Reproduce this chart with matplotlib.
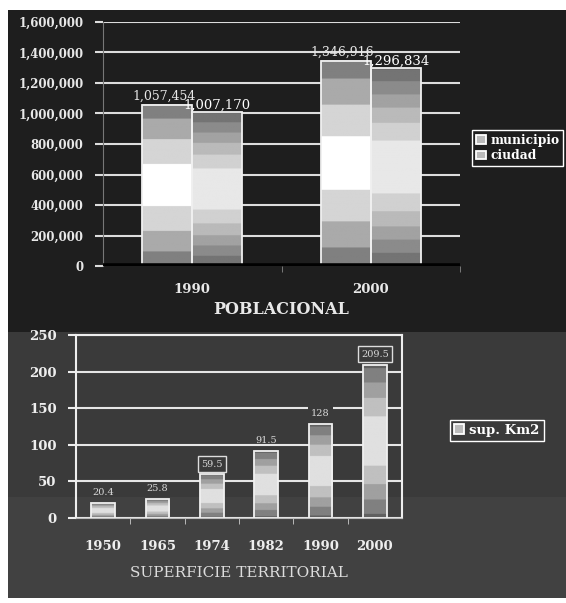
import numpy as np
import matplotlib
matplotlib.use("Agg")
import matplotlib.pyplot as plt
from matplotlib.patches import Rectangle

# poblacional
years_pop = ["1990", "2000"]
municipio = [1057454, 1346916]
ciudad = [1007170, 1296834]
pop_ticks = [0, 200000, 400000, 600000, 800000, 1000000, 1200000, 1400000, 1600000]

# superficie territorial
years_sup = ["1950", "1965", "1974", "1982", "1990", "2000"]
sup_km2 = [20.4, 25.8, 59.5, 91.5, 128, 209.5]
sup_labels = ["20.4", "25.8", "59.5", "91.5", "128", "209.5"]
sup_ticks = [0, 50, 100, 150, 200, 250]

W, H = 566, 603
SERIF = "DejaVu Serif"


def fx(px):
    return px / W


def fy(py):
    return 1 - py / H


def shade(ax, bars, lo, hi, levels):
    # banded "center light" gradient like the old excel fills
    t = np.linspace(0, 1, 300)
    g = lo + (hi - lo) * (1 - np.abs(2 * t - 1) ** 1.4)
    g = np.round(g * levels) / levels
    for b in bars:
        x0, y0 = b.get_x(), b.get_y()
        ax.imshow(g[:, None], extent=[x0, x0 + b.get_width(), y0, y0 + b.get_height()],
                  origin="lower", aspect="auto", cmap="gray", vmin=0, vmax=1, zorder=2)


fig = plt.figure(figsize=(W / 100, H / 100), dpi=100)
fig.patch.set_facecolor("white")

# backgrounds
fig.patches.append(Rectangle((fx(8), fy(332)), 1, fy(10) - fy(332), transform=fig.transFigure,
                             facecolor="#1e1e1e", edgecolor="none", zorder=-10))
fig.patches.append(Rectangle((fx(8), fy(497)), 1, fy(332) - fy(497), transform=fig.transFigure,
                             facecolor="#3a3a3a", edgecolor="none", zorder=-10))
fig.patches.append(Rectangle((fx(8), fy(598)), 1, fy(497) - fy(598), transform=fig.transFigure,
                             facecolor="#414141", edgecolor="none", zorder=-10))

# ---------- top chart ----------
ax1 = fig.add_axes([fx(103), fy(266), fx(460) - fx(103), fy(22) - fy(266)])
ax1.set_facecolor("none")
x = np.arange(len(years_pop))
bw = 0.28
b_mun = ax1.bar(x - bw / 2, municipio, bw, fill=False, edgecolor="#f0f0f0", lw=1.3, zorder=3)
b_ciu = ax1.bar(x + bw / 2, ciudad, bw, fill=False, edgecolor="#f0f0f0", lw=1.3, zorder=3)
shade(ax1, b_mun, 0.45, 1.0, 6)
shade(ax1, b_ciu, 0.40, 0.95, 11)
ax1.axhline(0, color="black", lw=4, zorder=4)

for b, v in zip(b_mun, municipio):
    ax1.text(b.get_x() + b.get_width() / 2 - 0.02, v + 15000, f"{v:,}", color="#e8e8e8",
             fontsize=9, family=SERIF, ha="center", va="bottom", zorder=5)
for b, v in zip(b_ciu, ciudad):
    ax1.text(b.get_x() + b.get_width() / 2, v + 5000, f"{v:,}", color="white",
             fontsize=9.5, family=SERIF, ha="center", va="bottom", zorder=5)

ax1.set_xlim(-0.5, 1.5)
ax1.set_ylim(0, 1600000)
ax1.set_yticks(pop_ticks)
ax1.set_yticklabels([f"{v:,}" for v in pop_ticks], family=SERIF, fontweight="bold",
                    fontsize=8.5, color="#e8e8e8")
ax1.set_xticks(x)
ax1.set_xticklabels(years_pop, family=SERIF, fontweight="bold", fontsize=9.5, color="#e8e8e8")
ax1.set_xticks([0.5, 1.5], minor=True)
ax1.tick_params(axis="x", which="major", length=0, pad=12)
ax1.tick_params(axis="x", which="minor", length=4, color="#888888")
ax1.tick_params(axis="y", length=6, color="#dddddd", width=1.5, pad=8)
ax1.yaxis.grid(True, color="#dcdcdc", lw=1.5)
ax1.set_axisbelow(True)
for s in ["top", "right", "bottom"]:
    ax1.spines[s].set_visible(False)
ax1.spines["left"].set_color("#777777")
ax1.set_xlabel("POBLACIONAL", family=SERIF, fontweight="bold", fontsize=11.5,
               color="#e8e8e8", labelpad=4)

leg1 = ax1.legend([b_mun[0], b_ciu[0]], ["municipio", "ciudad"], loc="upper left",
                  bbox_to_anchor=(fx(466), fy(124)), bbox_transform=fig.transFigure,
                  prop={"family": SERIF, "weight": "bold", "size": 8.8},
                  labelcolor="white", facecolor="#1e1e1e", edgecolor="white",
                  framealpha=1, fancybox=False, handlelength=0.8, handleheight=0.7,
                  handletextpad=0.4, borderpad=0.3, labelspacing=0.2)
for h in leg1.legend_handles:
    h.set_fill(True)
    h.set_facecolor("#bbbbbb")
    h.set_edgecolor("white")

# ---------- bottom chart ----------
ax2 = fig.add_axes([fx(76), fy(518), fx(402) - fx(76), fy(335) - fy(518)])
ax2.set_facecolor("none")
x2 = np.arange(len(years_sup))
b_sup = ax2.bar(x2, sup_km2, 0.44, fill=False, edgecolor="#f0f0f0", lw=1.3, zorder=3)
shade(ax2, b_sup, 0.40, 0.92, 8)

for b, v, lab in zip(b_sup, sup_km2, sup_labels):
    box = None
    if lab in ("59.5", "209.5"):
        box = dict(boxstyle="square,pad=0.35", facecolor="#3a3a3a", edgecolor="#dddddd", lw=1)
    elif lab == "128":
        box = dict(boxstyle="square,pad=0.35", facecolor="#3a3a3a", edgecolor="none")
    ax2.text(b.get_x() + b.get_width() / 2, v + 8, lab, color="#d8d8d8", fontsize=7,
             family=SERIF, ha="center", va="bottom", zorder=5, bbox=box)

ax2.set_xlim(-0.5, len(years_sup) - 0.5)
ax2.set_ylim(0, 250)
ax2.set_yticks(sup_ticks)
ax2.set_yticklabels([str(v) for v in sup_ticks], family=SERIF, fontweight="bold",
                    fontsize=9.5, color="#eeeeee")
ax2.set_xticks(x2)
ax2.set_xticklabels(years_sup, family=SERIF, fontweight="bold", fontsize=9.5, color="#eeeeee")
ax2.set_xticks(x2[:-1] + 0.5, minor=True)
ax2.tick_params(axis="x", which="major", length=0, pad=16)
ax2.tick_params(axis="x", which="minor", length=4, color="#cccccc")
ax2.tick_params(axis="y", length=6, color="#eeeeee", width=1.5, pad=8)
ax2.yaxis.grid(True, color="#e6e6e6", lw=1.5)
ax2.set_axisbelow(True)
for s in ["top", "right", "left"]:
    ax2.spines[s].set_color("#eeeeee")
    ax2.spines[s].set_linewidth(1.5)
ax2.spines["bottom"].set_color("#bbbbbb")
ax2.set_xlabel("SUPERFICIE TERRITORIAL", family=SERIF, fontsize=11,
               color="#dddddd", labelpad=9)

leg2 = ax2.legend([b_sup[0]], ["sup. Km2"], loc="upper left",
                  bbox_to_anchor=(fx(443), fy(413)), bbox_transform=fig.transFigure,
                  prop={"family": SERIF, "weight": "bold", "size": 9.5},
                  labelcolor="white", facecolor="#3a3a3a", edgecolor="white",
                  framealpha=1, fancybox=False, handlelength=0.8, handleheight=0.7,
                  handletextpad=0.4, borderpad=0.3)
for h in leg2.legend_handles:
    h.set_fill(True)
    h.set_facecolor("#bbbbbb")
    h.set_edgecolor("white")

fig.savefig("out.png", dpi=100, facecolor=fig.get_facecolor())
